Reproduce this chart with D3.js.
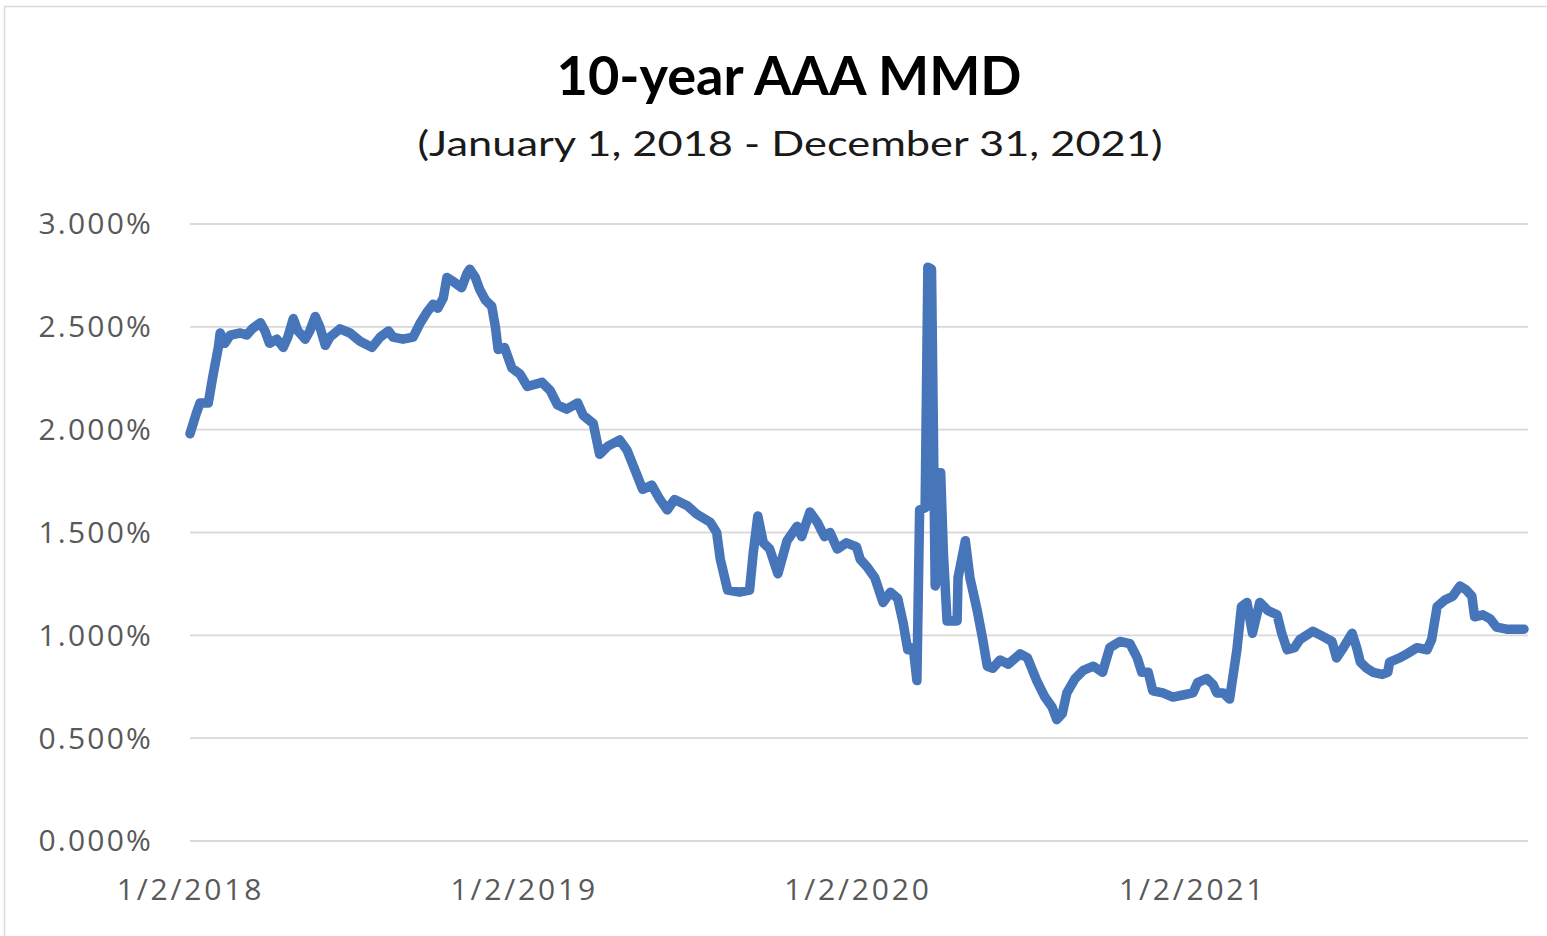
<!DOCTYPE html>
<html>
<head>
<meta charset="utf-8">
<script src="https://cdn.jsdelivr.net/npm/d3@7"></script>
<style>
  html, body { margin: 0; padding: 0; background: #ffffff; }
  svg { display: block; }
</style>
</head>
<body>
<svg id="chart" width="1547" height="936"></svg>
<script>
// ---- data ----
const titleText = "10-year AAA MMD";
const subtitleText = "(January 1, 2018 - December 31, 2021)";

const dates = [
  "2018-01-02","2018-01-09","2018-01-13","2018-01-22","2018-01-27","2018-02-02","2018-02-04","2018-02-09",
  "2018-02-15","2018-02-26","2018-03-05","2018-03-11","2018-03-20","2018-03-25","2018-03-30","2018-04-07",
  "2018-04-14","2018-04-19","2018-04-25","2018-04-30","2018-05-08","2018-05-13","2018-05-19","2018-05-24",
  "2018-05-30","2018-06-04","2018-06-15","2018-06-26","2018-07-07","2018-07-20","2018-07-29","2018-08-07",
  "2018-08-12","2018-08-23","2018-09-03","2018-09-11","2018-09-18","2018-09-25","2018-09-30","2018-10-06",
  "2018-10-10","2018-10-17","2018-10-26","2018-11-01","2018-11-04","2018-11-10","2018-11-15","2018-11-21",
  "2018-11-28","2018-12-02","2018-12-05","2018-12-12","2018-12-20","2018-12-29","2019-01-06","2019-01-22",
  "2019-01-31","2019-02-08","2019-02-18","2019-03-02","2019-03-08","2019-03-19","2019-03-26","2019-04-04",
  "2019-04-17","2019-04-25","2019-05-04","2019-05-12","2019-05-22","2019-05-31","2019-06-08","2019-06-16",
  "2019-06-30","2019-07-10","2019-07-25","2019-08-01","2019-08-05","2019-08-13","2019-08-26","2019-09-06",
  "2019-09-10","2019-09-15","2019-09-21","2019-09-28","2019-10-07","2019-10-17","2019-10-28","2019-11-02",
  "2019-11-11","2019-11-19","2019-11-27","2019-12-03","2019-12-11","2019-12-21","2020-01-01","2020-01-05",
  "2020-01-13","2020-01-21","2020-01-30","2020-02-07","2020-02-15","2020-02-21","2020-02-26","2020-03-03",
  "2020-03-07","2020-03-10","2020-03-16","2020-03-19","2020-03-23","2020-03-27","2020-03-30","2020-04-02",
  "2020-04-05","2020-04-09","2020-04-20","2020-04-21","2020-04-29","2020-05-04","2020-05-12","2020-05-18",
  "2020-05-23","2020-05-29","2020-06-06","2020-06-15","2020-06-28","2020-07-06","2020-07-16","2020-07-25",
  "2020-08-02","2020-08-07","2020-08-13","2020-08-18","2020-08-27","2020-09-05","2020-09-16","2020-09-26",
  "2020-10-04","2020-10-15","2020-10-26","2020-11-03","2020-11-08","2020-11-15","2020-11-20","2020-12-01",
  "2020-12-12","2020-12-23","2021-01-03","2021-01-08","2021-01-18","2021-01-25","2021-01-29","2021-02-05",
  "2021-02-12","2021-02-20","2021-02-25","2021-03-03","2021-03-09","2021-03-17","2021-03-26","2021-04-05",
  "2021-04-10","2021-04-16","2021-04-24","2021-04-30","2021-05-14","2021-05-27","2021-06-04","2021-06-09",
  "2021-06-15","2021-06-26","2021-07-01","2021-07-05","2021-07-12","2021-07-19","2021-07-29","2021-08-04",
  "2021-08-06","2021-08-17","2021-08-25","2021-09-05","2021-09-16","2021-09-21","2021-09-27","2021-10-05",
  "2021-10-14","2021-10-22","2021-10-29","2021-11-04","2021-11-07","2021-11-16","2021-11-24","2021-12-01",
  "2021-12-12","2021-12-31"
];

const yields = [
  1.98,2.08,2.13,2.13,2.26,2.40,2.47,2.42,
  2.46,2.47,2.46,2.49,2.52,2.48,2.42,2.44,
  2.40,2.45,2.54,2.48,2.44,2.48,2.55,2.50,
  2.41,2.45,2.49,2.47,2.43,2.40,2.45,2.48,
  2.45,2.44,2.45,2.52,2.57,2.61,2.59,2.64,
  2.74,2.72,2.69,2.76,2.78,2.74,2.68,2.63,
  2.60,2.50,2.39,2.40,2.30,2.27,2.21,2.23,
  2.19,2.12,2.10,2.13,2.07,2.03,1.88,1.92,
  1.95,1.90,1.80,1.71,1.73,1.66,1.61,1.66,
  1.63,1.59,1.55,1.50,1.37,1.22,1.21,1.22,
  1.40,1.58,1.45,1.42,1.30,1.46,1.53,1.48,
  1.60,1.55,1.48,1.50,1.42,1.45,1.43,1.37,
  1.33,1.28,1.16,1.21,1.18,1.06,0.93,0.94,
  0.78,1.61,1.62,2.79,2.78,1.24,1.30,1.79,
  1.40,1.07,1.07,1.28,1.46,1.28,1.12,0.98,
  0.85,0.84,0.88,0.86,0.91,0.89,0.78,0.70,
  0.65,0.59,0.62,0.72,0.79,0.83,0.85,0.82,
  0.94,0.97,0.96,0.89,0.82,0.82,0.73,0.72,
  0.70,0.71,0.72,0.77,0.79,0.76,0.72,0.72,
  0.69,0.93,1.14,1.16,1.01,1.16,1.12,1.10,
  1.01,0.93,0.94,0.98,1.02,0.99,0.97,0.89,
  0.93,1.01,0.94,0.87,0.84,0.82,0.81,0.82,
  0.87,0.89,0.91,0.94,0.93,0.98,1.14,1.17,
  1.19,1.24,1.22,1.19,1.09,1.10,1.08,1.04,
  1.03,1.03
];

const yTicks = [0, 0.5, 1.0, 1.5, 2.0, 2.5, 3.0];
const xTickDates = ["2018-01-02","2019-01-02","2020-01-02","2021-01-02"];

// ---- drawing ----
const parse = d3.timeParse("%Y-%m-%d");
const series = dates.map((d, i) => ({ date: parse(d), value: yields[i] }));

const svg = d3.select("#chart");
const W = 1547, H = 936;
const plot = { left: 190, right: 1524, top: 224, bottom: 841 };

// outer chart border
svg.append("rect")
  .attr("x", 4.5).attr("y", 6.5)
  .attr("width", W + 10).attr("height", H + 10)
  .attr("fill", "#ffffff")
  .attr("stroke", "#d9d9d9").attr("stroke-width", 1.5);

const x = d3.scaleTime()
  .domain([parse("2018-01-02"), parse("2021-12-31")])
  .range([plot.left, plot.right]);

const y = d3.scaleLinear()
  .domain([0, 3])
  .range([plot.bottom, plot.top]);

// gridlines
svg.append("g")
  .selectAll("line")
  .data(yTicks)
  .join("line")
  .attr("x1", plot.left).attr("x2", 1528)
  .attr("y1", d => y(d)).attr("y2", d => y(d))
  .attr("stroke", "#d9d9d9")
  .attr("stroke-width", 1.8);

// y labels
const yAxis = d3.axisLeft(y)
  .tickValues(yTicks)
  .tickFormat(d => d.toFixed(3) + "%")
  .tickSize(0)
  .tickPadding(37);

const gy = svg.append("g")
  .attr("transform", `translate(${plot.left},0)`)
  .call(yAxis);
gy.select(".domain").remove();
gy.selectAll(".tick text")
  .attr("font-family", "'Open Sans', sans-serif")
  .attr("font-size", 30)
  .attr("letter-spacing", "2.2px")
  .attr("fill", "#595959")
  .attr("dy", "0.33em");

// x labels
const xAxis = d3.axisBottom(x)
  .tickValues(xTickDates.map(parse))
  .tickFormat(d3.timeFormat("%-m/%-d/%Y"))
  .tickSize(0)
  .tickPadding(38);

const gx = svg.append("g")
  .attr("transform", `translate(0,${plot.bottom})`)
  .call(xAxis);
gx.select(".domain").remove();
gx.selectAll(".tick text")
  .attr("font-family", "'Open Sans', sans-serif")
  .attr("font-size", 30)
  .attr("letter-spacing", "2.8px")
  .attr("fill", "#595959");

// line
const line = d3.line()
  .x(d => x(d.date))
  .y(d => y(d.value));

svg.append("path")
  .datum(series)
  .attr("d", line)
  .attr("fill", "none")
  .attr("stroke", "#4675b9")
  .attr("stroke-width", 9.5)
  .attr("stroke-linejoin", "round")
  .attr("stroke-linecap", "round");

// titles
svg.append("text")
  .attr("x", 789).attr("y", 95)
  .attr("text-anchor", "middle")
  .attr("font-family", "Lato, sans-serif")
  .attr("font-weight", 700)
  .attr("font-size", 53)
  .attr("fill", "#000000")
  .attr("textLength", 465)
  .attr("lengthAdjust", "spacingAndGlyphs")
  .text(titleText);

svg.append("text")
  .attr("x", 790).attr("y", 156)
  .attr("text-anchor", "middle")
  .attr("font-family", "Lato, sans-serif")
  .attr("font-size", 35)
  .attr("fill", "#1a1a1a")
  .attr("textLength", 745)
  .attr("lengthAdjust", "spacingAndGlyphs")
  .text(subtitleText);
</script>
</body>
</html>
